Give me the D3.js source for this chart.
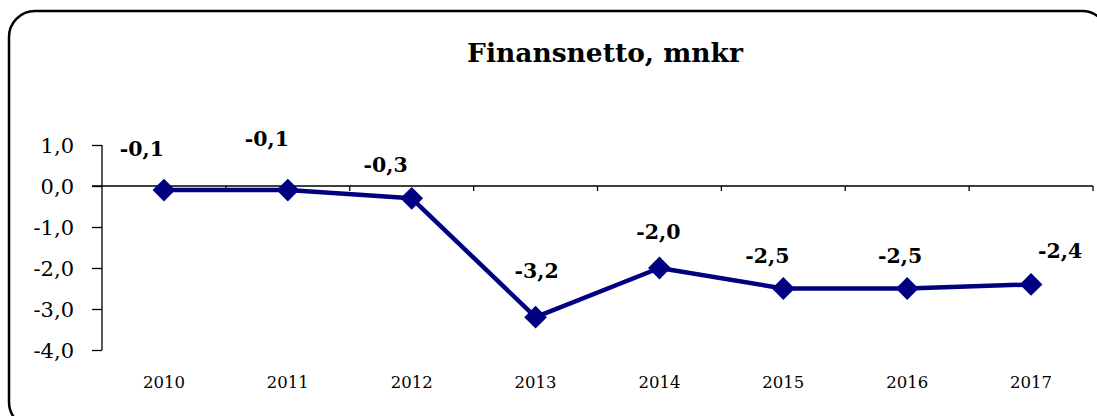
<!DOCTYPE html>
<html>
<head>
<meta charset="utf-8">
<script src="https://cdn.jsdelivr.net/npm/d3@7"></script>
<style>
  html, body { margin: 0; padding: 0; background: #fff; }
  svg { display: block; }
  text { font-family: "DejaVu Serif", "Liberation Serif", serif; fill: #000; }
</style>
</head>
<body>
<svg id="chart" width="1097" height="416"></svg>
<script>
// Data
const years = ['2010', '2011', '2012', '2013', '2014', '2015', '2016', '2017'];
const finansnetto = [-0.1, -0.1, -0.3, -3.2, -2.0, -2.5, -2.5, -2.4];
const yTicks = [1, 0, -1, -2, -3, -4];
const title = 'Finansnetto, mnkr';

// label nudges (dx, dy from marker) - placed by hand like the original
const labelNudge = [[-22, -34], [-21, -44], [-26, -26], [1, -39], [-1, -29], [-16, -26], [-7, -26], [29, -26]];

const fmt = v => d3.format('.1f')(v).replace('.', ',').replace('−', '-');

const svg = d3.select('#chart');

// frame (runs off the right and bottom edges)
svg.append('rect')
    .attr('x', 9).attr('y', 11)
    .attr('width', 1099).attr('height', 417)
    .attr('rx', 26)
    .attr('fill', 'none')
    .attr('stroke', '#000')
    .attr('stroke-width', 2.5);

svg.append('text')
    .attr('x', 605).attr('y', 62)
    .attr('text-anchor', 'middle')
    .attr('font-size', '26.5px')
    .attr('font-weight', 'bold')
    .text(title);

const x = d3.scaleBand().domain(years).range([102, 1093]);
const y = d3.scaleLinear().domain([-4, 1]).range([350, 145]);

// y axis
const yAxis = svg.append('g')
    .attr('transform', `translate(${x.range()[0]},0)`)
    .call(d3.axisLeft(y).tickValues(yTicks).tickSize(10).tickPadding(18).tickFormat(fmt));
yAxis.select('.domain').attr('stroke-width', 1.3).attr('d', `M0,${y(1)}V${y(-4)}`);
yAxis.selectAll('.tick line').attr('stroke-width', 1.3);
yAxis.selectAll('.tick text')
    .attr('font-size', '21px')
    .attr('dy', '0.36em')
    .attr('fill', '#000');

// x axis at zero line, ticks at category boundaries
const xg = svg.append('g').attr('transform', `translate(0,${y(0)})`);
xg.append('line')
    .attr('x1', x.range()[0] - 10).attr('x2', x.range()[1])
    .attr('stroke', '#000').attr('stroke-width', 1.3);
xg.selectAll('line.tk')
    .data(years.slice(1).concat(['end']))
    .join('line')
    .attr('class', 'tk')
    .attr('x1', (d, i) => x.range()[0] + (i + 1) * x.step())
    .attr('x2', (d, i) => x.range()[0] + (i + 1) * x.step())
    .attr('y1', 0).attr('y2', 5)
    .attr('stroke', '#000').attr('stroke-width', 1.3);

svg.append('g').selectAll('text')
    .data(years)
    .join('text')
    .attr('x', d => x(d) + x.bandwidth() / 2)
    .attr('y', 388)
    .attr('text-anchor', 'middle')
    .attr('font-size', '16.5px')
    .text(d => d);

// line + markers
const cx = (d, i) => x(years[i]) + x.bandwidth() / 2;
const line = d3.line().x(cx).y(d => y(d));

svg.append('path')
    .datum(finansnetto)
    .attr('d', line)
    .attr('fill', 'none')
    .attr('stroke', '#000080')
    .attr('stroke-width', 4.5)
    .attr('stroke-linejoin', 'round');

svg.append('g').selectAll('path')
    .data(finansnetto)
    .join('path')
    .attr('d', d3.symbol(d3.symbolDiamond2, 330))
    .attr('transform', (d, i) => `translate(${cx(d, i)},${y(d)})`)
    .attr('fill', '#000080');

// data labels
svg.append('g').selectAll('text')
    .data(finansnetto)
    .join('text')
    .attr('x', (d, i) => cx(d, i) + labelNudge[i][0])
    .attr('y', (d, i) => y(d) + labelNudge[i][1])
    .attr('text-anchor', 'middle')
    .attr('font-size', '20.5px')
    .attr('font-weight', 'bold')
    .text(fmt);
</script>
</body>
</html>
